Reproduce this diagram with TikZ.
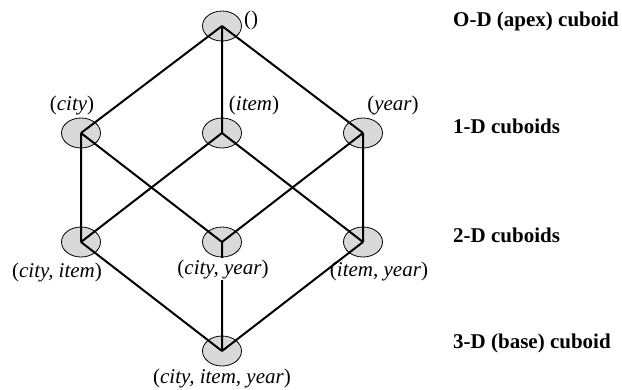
\documentclass[tikz,border=0pt]{standalone}
\usepackage{fontspec}
\setmainfont{Liberation Serif}
\usetikzlibrary{shapes.geometric}
\definecolor{cubfill}{HTML}{D9D9D9}
\tikzset{
  cub/.style={ellipse,draw=black,line width=0.8bp,fill=cubfill,minimum width=39bp,minimum height=30bp,inner sep=0pt},
  ln/.style={line width=2bp,black},
  lab/.style={font=\fontsize{21bp}{25bp}\selectfont,inner sep=1.5bp,anchor=base},
  lvl/.style={font=\fontsize{21bp}{25bp}\selectfont\bfseries,inner sep=0pt,anchor=base west}
}

\begin{document}
\begin{tikzpicture}[x=1bp,y=-1bp]
\useasboundingbox (0,0) rectangle (622,389);
% cuboids
\node[cub] (apex) at (222,26) {};
\node[cub] (city) at (81,133) {};
\node[cub] (item) at (222,133) {};
\node[cub] (year) at (363,133) {};
\node[cub] (cityitem) at (81,242) {};
\node[cub] (cityyear) at (222,242) {};
\node[cub] (itemyear) at (363,242) {};
\node[cub] (base) at (222,351) {};
% lattice
\draw[ln] (apex.center) -- (city.center) (apex.center) -- (item.center) (apex.center) -- (year.center);
\draw[ln] (city.center) -- (cityitem.center) (city.center) -- (cityyear.center);
\draw[ln] (item.center) -- (cityitem.center) (item.center) -- (itemyear.center);
\draw[ln] (year.center) -- (cityyear.center) (year.center) -- (itemyear.center);
\draw[ln] (cityitem.center) -- (base.center) (cityyear.center) -- (base.center) (itemyear.center) -- (base.center);
% names
\node[lab] (lapex) at (251,25) {()};
\node[lab] (lcity) at (72,110) {(\textit{city})};
\node[lab] (litem) at (254,110) {(\textit{item})};
\node[lab] (lyear) at (393,110) {(\textit{year})};
\node[lab] (lcityitem) at (57,277) {(\textit{city, item})};
\node[lab,fill=white] (lcityyear) at (223,274) {(\textit{city, year})};
\node[lab] (litemyear) at (379,276) {(\textit{item, year})};
\node[lab] (lbase) at (222,383) {(\textit{city, item, year})};
% levels
\node[lvl] (l0) at (453,26) {O-D (apex) cuboid};
\node[lvl] (l1) at (453,133) {1-D cuboids};
\node[lvl] (l2) at (453,242) {2-D cuboids};
\node[lvl] (l3) at (453,348) {3-D (base) cuboid};
\end{tikzpicture}
\end{document}
